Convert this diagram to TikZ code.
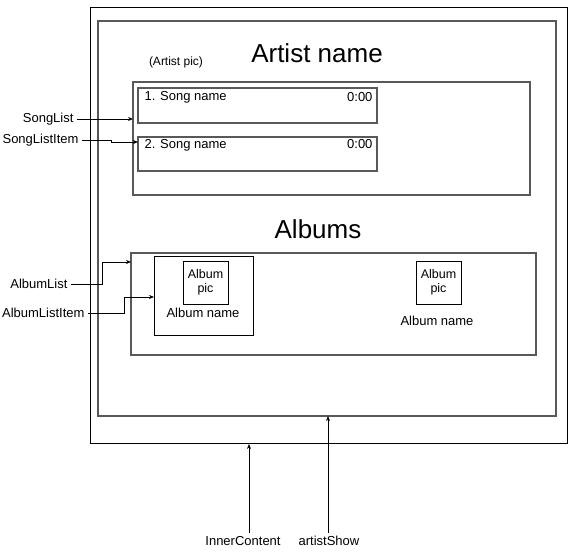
\documentclass[tikz,border=0pt]{standalone}
\usepackage{fontspec}
\setmainfont{Liberation Sans}
\usetikzlibrary{arrows, arrows.meta}

\begin{document}
\begin{tikzpicture}[x=1pt, y=-1pt, >={Stealth[length=5pt, width=4pt]},
    every node/.style={font=\fontsize{13}{14}\selectfont},
    frame/.style={draw, line width=1pt, inner sep=0pt, outer sep=0pt},
    listbox/.style={draw=black!65, line width=1.2pt, inner sep=0pt, outer sep=0pt},
    picbox/.style={draw, line width=0.8pt, inner sep=0pt, outer sep=0pt, minimum width=45, minimum height=43, align=center, font=\fontsize{12.5}{14}\selectfont},
    title/.style={font=\fontsize{26}{28}\selectfont},
    conn/.style={->, line width=0.8pt}]
    \useasboundingbox (0,0) rectangle (574,556);

    % containers
    \node[frame, minimum width=477, minimum height=436] (outer) at (328.5,226) {};
    \node[listbox, minimum width=458, minimum height=395] (inner) at (327,218.5) {};

    % artist header
    \node[title] (artist) at (317,53) {Artist name};
    \node[font=\fontsize{12}{14}\selectfont] (apic) at (176,62) {(Artist pic)};

    % song list
    \node[listbox, minimum width=397, minimum height=113] (songs) at (331.5,138.5) {};
    \node[listbox, minimum width=239, minimum height=35] (s1) at (257.5,105.5) {};
    \node[listbox, minimum width=239, minimum height=34] (s2) at (257.5,154) {};
    \node[anchor=west] (s1name) at (141,97) {1. Song name};
    \node[anchor=east] (s1time) at (376,97) {0:00};
    \node[anchor=west] (s2name) at (141,145) {2. Song name};
    \node[anchor=east] (s2time) at (376,144) {0:00};

    % albums
    \node[title] (albums) at (318,229) {Albums};
    \node[listbox, minimum width=405, minimum height=102] (alist) at (333.5,304) {};
    \node[frame, minimum width=99, minimum height=79] (a1) at (203.5,296.5) {};
    \node[picbox] (a1pic) at (205.5,282.5) {Album\\pic};
    \node (a1name) at (203,313) {Album name};
    \node[picbox] (a2pic) at (438.5,282.5) {Album\\pic};
    \node (a2name) at (437,321) {Album name};

    % labels
    \node[anchor=east] (lSong) at (77,119) {SongList};
    \node[anchor=east] (lItem) at (82,140) {SongListItem};
    \node[anchor=east] (lAlbum) at (71,284) {AlbumList};
    \node[anchor=east] (lAItem) at (88,313) {AlbumListItem};
    \node (lInner) at (243,541) {InnerContent};
    \node (lShow) at (329,541) {artistShow};

    \coordinate (cItem) at (138,142);
    \coordinate (cAlbum) at (131,262);
    \coordinate (cAItem) at (154,297);
    \coordinate (cInner) at (249,533);
    \coordinate (cShow) at (328,533);

    \draw[conn] (lSong.east) -- (lSong -| songs.west);
    \draw[conn] (lItem.east) -- ++(29,0) |- (cItem);
    \draw[conn] (lAlbum.east) -- ++(31,0) |- (cAlbum);
    \draw[conn] (lAItem.east) -- ++(36,0) |- (cAItem);
    \draw[conn] (cInner) -- (cInner |- outer.south);
    \draw[conn] (cShow) -- (cShow |- inner.south);
\end{tikzpicture}
\end{document}
